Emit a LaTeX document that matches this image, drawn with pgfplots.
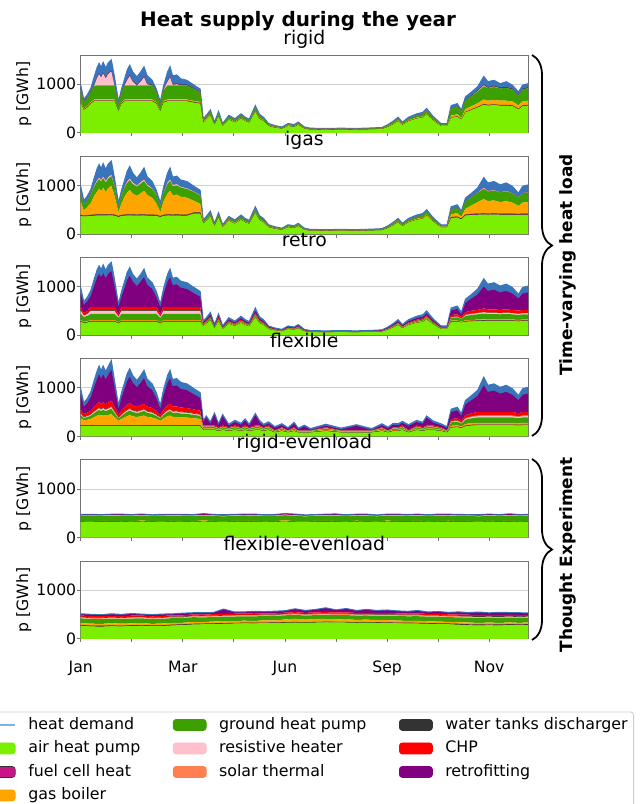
\documentclass[border=0pt]{standalone}
\usepackage{fontspec}
\setmainfont{DejaVu Sans}
\usepackage{pgfplots}
\pgfplotsset{compat=1.18}
\usepackage{pgfplotstable}
\usetikzlibrary{decorations.pathreplacing}

\definecolor{cair}{RGB}{124,238,0}
\definecolor{cfc}{RGB}{199,21,133}
\definecolor{cgas}{RGB}{255,165,0}
\definecolor{cground}{RGB}{60,160,0}
\definecolor{cres}{RGB}{255,192,203}
\definecolor{csol}{RGB}{255,127,80}
\definecolor{ctank}{RGB}{51,51,51}
\definecolor{cchp}{RGB}{255,0,0}
\definecolor{cret}{RGB}{128,0,128}
\definecolor{cdem}{RGB}{58,117,188}
\definecolor{cdeml}{RGB}{130,175,225}

% columns: hour, air HP, fuel cell, gas boiler, ground HP, resistive, solar, tanks, CHP, retrofitting, demand band
\pgfplotstableread{
h a fc g n r s t c f bl
0 620 10 25 240 0 0 15 0 0 70
60 470 8 22 130 0 0 10 0 0 50
130 520 8 22 160 0 0 10 0 0 60
200 600 10 25 210 0 0 10 0 0 65
264 650 10 25 280 0 0 15 0 0 170
320 650 10 25 290 150 0 15 0 0 200
360 650 10 25 290 225 0 15 0 0 215
400 650 10 25 290 160 0 15 0 0 200
440 650 10 25 290 240 0 15 0 0 220
490 650 10 25 290 140 0 15 0 0 200
540 650 10 25 290 235 0 15 0 0 215
600 650 10 25 290 285 0 15 0 0 225
660 650 10 25 290 0 0 15 0 0 170
740 440 8 20 122 0 0 10 0 0 40
800 600 10 25 200 0 0 10 0 0 55
860 650 10 25 290 0 0 15 0 0 120
910 650 10 25 290 105 0 15 0 0 195
960 650 10 25 290 190 0 15 0 0 210
1020 650 10 25 290 70 0 15 0 0 190
1100 650 10 25 290 0 0 15 0 0 160
1180 650 10 25 290 80 0 15 0 0 190
1240 650 10 25 290 165 0 15 0 0 205
1300 650 10 25 290 20 0 15 0 0 170
1400 650 10 25 290 0 0 15 0 0 90
1480 600 10 25 200 0 0 10 0 0 55
1560 440 8 20 122 0 0 10 0 0 40
1620 620 10 25 225 0 0 10 0 0 60
1700 650 10 25 290 70 0 15 0 0 190
1750 650 10 25 290 165 0 15 0 0 205
1800 650 10 25 290 10 0 15 0 0 170
1880 650 10 25 290 20 0 15 0 0 180
1960 650 10 25 290 0 0 15 0 0 120
2080 650 10 25 290 0 0 15 0 0 90
2220 620 10 25 240 0 0 15 0 0 70
2340 600 10 25 200 0 0 10 0 0 55
2400 212 3 15 32 0 0 0 0 0 28
2460 270 3 15 37 0 0 0 0 0 35
2540 355 4 18 48 0 0 0 0 0 45
2620 160 3 12 25 0 0 0 0 0 20
2700 335 4 16 45 0 0 0 0 0 40
2780 137 3 12 20 0 0 0 0 0 18
2900 270 3 15 37 0 0 0 0 0 35
3020 212 3 15 32 0 0 0 0 0 28
3140 292 3 17 40 0 0 0 0 0 38
3220 240 3 14 33 0 0 0 0 0 30
3300 208 3 12 30 0 0 0 0 0 27
3420 430 4 20 56 0 0 0 0 0 50
3500 285 3 16 39 0 0 0 0 0 37
3580 240 3 14 33 0 0 0 0 0 30
3680 137 3 12 20 0 0 0 0 0 18
3800 105 3 10 17 0 0 0 0 0 15
3940 83 2 8 15 0 0 0 0 0 12
4060 137 3 12 20 0 0 0 0 0 18
4180 121 3 11 18 0 0 0 0 0 17
4260 160 3 12 25 0 0 0 0 0 20
4380 83 2 8 15 0 0 0 0 0 12
4500 65 2 6 12 0 0 0 0 0 10
4800 60 2 6 12 0 0 0 0 0 10
5100 65 2 6 12 0 0 0 0 0 10
5400 60 2 6 12 0 0 0 0 0 10
5700 70 2 6 12 0 0 0 0 0 10
5900 77 2 7 13 0 0 0 0 0 11
6020 121 3 11 18 0 0 0 0 0 17
6120 175 3 13 27 0 0 0 0 0 22
6216 240 3 14 33 0 0 0 0 0 30
6300 160 3 12 25 0 0 0 0 0 20
6420 240 3 14 33 0 0 0 0 0 30
6580 292 3 17 40 0 0 0 0 0 38
6700 315 3 18 44 0 0 0 0 0 40
6775 380 4 19 52 0 0 0 0 0 45
6900 255 3 15 35 0 0 0 0 0 32
7055 137 3 12 20 0 0 0 0 0 18
7175 137 3 12 20 0 0 0 0 0 18
7255 310 5 40 150 0 0 5 0 0 50
7375 330 5 45 160 0 0 5 0 0 55
7455 270 5 35 115 0 0 5 0 0 40
7535 420 6 60 180 0 0 10 0 0 64
7655 470 8 70 210 0 0 10 0 0 72
7775 520 8 80 240 10 0 12 0 0 80
7894 580 10 95 270 20 0 15 0 0 170
7974 560 10 90 260 0 0 15 0 0 115
8094 570 10 95 265 10 0 15 0 0 115
8214 560 10 90 255 0 0 15 0 0 80
8334 560 10 90 260 0 0 15 0 0 115
8454 550 10 85 245 0 0 15 0 0 75
8574 480 8 75 195 0 0 12 0 0 70
8654 550 10 85 245 0 0 15 0 0 75
8760 560 10 90 255 0 0 15 0 0 80
}\tblrigid

\pgfplotstableread{
h a fc g n r s t c f bl
0 370 20 270 180 10 0 0 0 0 130
60 360 15 110 120 0 0 0 0 0 85
130 365 18 170 140 0 0 0 0 0 87
200 370 20 250 170 10 0 0 0 0 100
264 375 20 390 190 20 0 0 0 0 155
320 380 20 470 200 30 0 0 0 0 240
360 380 20 530 200 30 0 0 0 0 270
400 380 20 480 200 30 0 0 0 0 240
440 380 20 550 200 30 0 0 0 0 270
490 380 20 460 200 30 0 0 0 0 240
540 380 20 540 200 30 0 0 0 0 270
600 385 20 585 200 30 0 0 0 0 280
660 375 20 395 190 20 0 0 0 0 160
740 350 15 80 110 0 0 0 0 0 85
800 370 20 240 170 10 0 0 0 0 90
860 375 20 370 190 15 0 0 0 0 140
910 380 20 450 200 30 0 0 0 0 210
960 380 20 510 200 30 0 0 0 0 250
1020 380 20 430 200 30 0 0 0 0 190
1100 375 20 390 190 20 0 0 0 0 155
1180 380 20 440 200 30 0 0 0 0 190
1240 380 20 490 200 30 0 0 0 0 240
1300 375 20 410 190 25 0 0 0 0 160
1400 375 20 350 180 15 0 0 0 0 140
1480 370 20 240 170 10 0 0 0 0 90
1560 350 15 80 110 0 0 0 0 0 85
1620 370 20 270 170 10 0 0 0 0 110
1700 380 20 430 200 30 0 0 0 0 190
1750 380 20 490 200 30 0 0 0 0 240
1800 375 20 400 190 25 0 0 0 0 160
1880 380 20 410 190 25 0 0 0 0 165
1960 375 20 370 190 15 0 0 0 0 140
2080 375 20 350 180 15 0 0 0 0 140
2220 420 20 240 180 10 0 0 0 0 110
2340 420 20 180 170 10 0 0 0 0 100
2400 212 3 15 32 0 0 0 0 0 28
2460 270 3 15 37 0 0 0 0 0 35
2540 355 4 18 48 0 0 0 0 0 45
2620 160 3 12 25 0 0 0 0 0 20
2700 335 4 16 45 0 0 0 0 0 40
2780 137 3 12 20 0 0 0 0 0 18
2900 270 3 15 37 0 0 0 0 0 35
3020 212 3 15 32 0 0 0 0 0 28
3140 292 3 17 40 0 0 0 0 0 38
3220 240 3 14 33 0 0 0 0 0 30
3300 208 3 12 30 0 0 0 0 0 27
3420 430 4 20 56 0 0 0 0 0 50
3500 285 3 16 39 0 0 0 0 0 37
3580 240 3 14 33 0 0 0 0 0 30
3680 137 3 12 20 0 0 0 0 0 18
3800 105 3 10 17 0 0 0 0 0 15
3940 83 2 8 15 0 0 0 0 0 12
4060 137 3 12 20 0 0 0 0 0 18
4180 121 3 11 18 0 0 0 0 0 17
4260 160 3 12 25 0 0 0 0 0 20
4380 83 2 8 15 0 0 0 0 0 12
4500 65 2 6 12 0 0 0 0 0 10
4800 60 2 6 12 0 0 0 0 0 10
5100 65 2 6 12 0 0 0 0 0 10
5400 60 2 6 12 0 0 0 0 0 10
5700 70 2 6 12 0 0 0 0 0 10
5900 77 2 7 13 0 0 0 0 0 11
6020 121 3 11 18 0 0 0 0 0 17
6120 175 3 13 27 0 0 0 0 0 22
6216 240 3 14 33 0 0 0 0 0 30
6300 160 3 12 25 0 0 0 0 0 20
6420 240 3 14 33 0 0 0 0 0 30
6580 292 3 17 40 0 0 0 0 0 38
6700 315 3 18 44 0 0 0 0 0 40
6775 380 4 19 52 0 0 0 0 0 45
6900 255 3 15 35 0 0 0 0 0 32
7055 137 3 12 20 0 0 0 0 0 18
7175 137 3 12 20 0 0 0 0 0 18
7255 330 15 60 100 0 0 0 0 0 55
7375 340 15 75 110 0 0 0 0 0 60
7455 300 10 45 75 0 0 0 0 0 40
7535 380 18 120 150 0 0 0 0 0 72
7655 390 20 180 170 0 0 0 0 0 80
7775 395 20 240 190 5 0 0 0 0 100
7894 400 20 300 210 20 0 0 0 0 210
7974 395 20 260 200 10 0 0 0 0 165
8094 400 20 270 200 10 0 0 0 0 180
8214 395 20 240 200 5 0 0 0 0 150
8334 395 20 260 200 10 0 0 0 0 165
8454 395 20 230 190 5 0 0 0 0 140
8574 390 20 170 170 0 0 0 0 0 90
8654 395 20 230 190 5 0 0 0 0 140
8760 395 20 240 200 5 0 0 0 0 150
}\tbligas

\pgfplotstableread{
h a fc g n r s t c f bl
0 280 10 20 130 60 0 15 70 275 120
60 250 8 18 100 25 0 10 50 159 70
130 260 8 18 110 35 0 12 55 202 80
200 280 10 20 130 60 0 15 70 225 110
264 280 10 20 130 60 0 15 70 425 140
320 280 10 20 130 60 0 15 70 595 160
360 280 10 20 130 60 0 15 70 675 170
400 280 10 20 130 60 0 15 70 605 160
440 280 10 20 130 60 0 15 70 690 175
490 280 10 20 130 60 0 15 70 585 160
540 280 10 20 130 60 0 15 70 680 175
600 280 10 20 130 60 0 15 70 735 180
660 280 10 20 130 60 0 15 70 435 140
740 240 8 18 90 20 0 10 50 144 60
800 280 10 20 130 60 0 15 70 205 110
860 280 10 20 130 60 0 15 70 390 135
910 280 10 20 130 60 0 15 70 550 155
960 280 10 20 130 60 0 15 70 640 165
1020 280 10 20 130 60 0 15 70 515 150
1100 280 10 20 130 60 0 15 70 425 140
1180 280 10 20 130 60 0 15 70 525 150
1240 280 10 20 130 60 0 15 70 610 165
1300 280 10 20 130 60 0 15 70 455 140
1400 280 10 20 130 60 0 15 70 365 130
1480 280 10 20 130 60 0 15 70 205 110
1560 240 8 18 90 20 0 10 50 144 60
1620 280 10 20 130 60 0 15 70 250 115
1700 280 10 20 130 60 0 15 70 515 150
1750 280 10 20 130 60 0 15 70 610 165
1800 280 10 20 130 60 0 15 70 445 140
1880 280 10 20 130 60 0 15 70 460 145
1960 280 10 20 130 60 0 15 70 390 135
2080 280 10 20 130 60 0 15 70 365 130
2220 280 10 20 130 60 0 15 70 275 120
2340 280 10 20 130 60 0 15 70 205 110
2400 188 2 12 17 0 0 0 17 25 29
2460 234 2 14 22 0 0 0 22 31 35
2540 305 3 19 28 0 0 0 28 40 47
2620 143 2 9 13 0 0 0 13 18 22
2700 286 3 18 26 0 0 0 26 37 44
2780 124 2 8 11 0 0 0 11 16 18
2900 234 2 14 22 0 0 0 22 31 35
3020 188 2 12 17 0 0 0 17 25 29
3140 254 2 16 23 0 0 0 23 33 39
3220 208 2 13 19 0 0 0 19 27 32
3300 182 2 11 17 0 0 0 17 23 28
3420 364 3 22 34 0 0 0 34 47 56
3500 247 2 15 23 0 0 0 23 32 38
3580 208 2 13 19 0 0 0 19 27 32
3680 124 2 8 11 0 0 0 11 16 18
3800 98 1 6 9 0 0 0 9 12 15
3940 78 1 5 7 0 0 0 7 10 12
4060 124 2 8 11 0 0 0 11 16 18
4180 111 1 7 10 0 0 0 10 14 17
4260 143 2 9 13 0 0 0 13 18 22
4380 78 1 5 7 0 0 0 7 10 12
4500 62 1 4 6 0 0 0 6 7 9
4800 59 1 4 5 0 0 0 5 7 9
5100 62 1 4 6 0 0 0 6 7 9
5400 59 1 4 5 0 0 0 5 7 9
5700 65 1 4 6 0 0 0 6 8 10
5900 72 1 4 7 0 0 0 7 8 11
6020 111 1 7 10 0 0 0 10 14 17
6120 156 2 10 14 0 0 0 14 20 24
6216 208 2 13 19 0 0 0 19 27 32
6300 143 2 9 13 0 0 0 13 18 22
6420 208 2 13 19 0 0 0 19 27 32
6580 254 2 16 23 0 0 0 23 33 39
6700 273 3 17 25 0 0 0 25 35 42
6775 325 3 20 30 0 0 0 30 42 50
6900 221 2 14 20 0 0 0 20 29 34
7055 124 2 8 11 0 0 0 11 16 18
7175 124 2 8 11 0 0 0 11 16 18
7255 280 5 15 60 10 0 5 40 90 55
7375 280 5 15 70 10 0 5 45 110 60
7455 260 5 15 50 5 0 5 35 50 45
7535 280 8 20 90 15 0 8 55 190 74
7655 285 10 20 100 20 0 10 60 250 85
7775 290 10 20 110 20 0 10 60 320 110
7894 295 10 20 120 25 0 12 70 448 160
7974 290 10 20 115 20 0 10 65 380 140
8094 290 10 20 115 20 0 10 65 405 145
8214 290 10 20 110 20 0 10 60 360 130
8334 290 10 20 115 20 0 10 65 380 140
8454 290 10 20 110 20 0 10 60 335 125
8574 285 10 20 100 20 0 10 60 250 85
8654 290 10 20 110 20 0 10 60 335 125
8760 290 10 20 110 20 0 10 60 360 130
}\tblretro

\pgfplotstableread{
h a fc g n r s t c f bl
0 210 15 147 69 13 10 15 74 309 118
60 210 15 104 48 9 7 15 52 147 83
130 210 15 117 55 10 8 15 59 197 94
200 210 15 138 64 12 9 15 69 278 110
264 210 15 173 81 15 12 15 86 405 138
320 210 15 201 94 17 13 15 101 513 161
360 210 15 218 102 19 15 15 109 573 174
400 210 15 203 95 18 14 15 101 517 162
440 210 15 218 102 19 15 15 109 573 174
490 210 15 200 93 17 13 15 100 507 160
540 210 15 216 101 19 14 15 108 569 173
600 210 15 234 109 20 16 15 117 637 187
660 210 15 174 81 15 12 15 87 412 139
740 210 15 96 45 8 6 15 48 120 77
800 210 15 135 63 12 9 15 68 265 108
860 210 15 167 78 14 11 15 83 384 133
910 210 15 194 90 17 13 15 97 484 155
960 210 15 209 97 18 14 15 104 541 167
1020 210 15 188 88 16 13 15 94 461 150
1100 210 15 173 81 15 12 15 86 405 138
1180 210 15 189 88 16 13 15 95 468 151
1240 210 15 204 95 18 14 15 102 524 163
1300 210 15 177 83 15 12 15 89 422 142
1400 210 15 162 76 14 11 15 81 366 130
1480 210 15 135 63 12 9 15 68 265 108
1560 210 15 96 45 8 6 15 48 120 77
1620 210 15 143 67 12 10 15 71 293 114
1700 210 15 188 88 16 13 15 94 461 150
1750 210 15 204 95 18 14 15 102 524 163
1800 210 15 176 82 15 12 15 88 417 140
1880 210 15 179 83 15 12 15 89 429 143
1960 210 15 167 78 14 11 15 83 384 133
2080 210 15 162 76 14 11 15 81 366 130
2220 210 15 147 69 13 10 15 74 309 118
2340 210 15 135 63 12 9 15 68 265 108
2400 130 5 25 30 5 5 5 20 70 35
2460 130 5 25 30 5 5 5 20 160 35
2540 130 5 25 30 5 5 5 20 40 35
2620 130 5 25 30 5 5 5 20 220 35
2700 110 5 20 25 4 4 4 15 43 30
2780 130 5 25 30 5 5 5 20 190 35
2900 110 5 20 25 4 4 4 15 33 30
3020 130 5 25 30 5 5 5 20 70 35
3140 110 5 20 25 4 4 4 15 53 30
3220 130 5 25 30 5 5 5 20 100 35
3300 110 5 20 25 4 4 4 15 33 30
3420 130 5 25 30 5 5 5 20 210 35
3500 130 5 25 30 5 5 5 20 70 35
3580 110 5 20 25 4 4 4 15 33 30
3680 130 5 25 30 5 5 5 20 40 35
3800 80 5 12 12 2 3 3 8 50 25
3940 110 5 20 25 4 4 4 15 43 30
4060 80 5 12 12 2 3 3 8 30 25
4180 110 5 20 25 4 4 4 15 73 30
4260 80 5 12 12 2 3 3 8 20 25
4380 80 5 12 12 2 3 3 8 80 25
4500 80 5 12 12 2 3 3 8 10 25
4800 110 5 20 25 4 4 4 15 33 30
5100 80 5 12 12 2 3 3 8 20 25
5400 80 5 12 12 2 3 3 8 90 25
5700 80 5 12 12 2 3 3 8 10 25
5900 110 5 20 25 4 4 4 15 43 30
6020 80 5 12 12 2 3 3 8 40 25
6120 110 5 20 25 4 4 4 15 53 30
6216 110 5 20 25 4 4 4 15 43 30
6300 130 5 25 30 5 5 5 20 50 35
6420 80 5 12 12 2 3 3 8 90 25
6580 130 5 25 30 5 5 5 20 70 35
6700 110 5 20 25 4 4 4 15 73 30
6775 130 5 25 30 5 5 5 20 160 35
6900 130 5 25 30 5 5 5 20 60 35
7055 110 5 20 25 4 4 4 15 43 30
7175 80 5 12 12 2 3 3 8 50 25
7255 180 8 30 70 10 10 8 40 144 60
7375 190 8 30 75 10 10 8 45 159 65
7455 170 8 25 60 8 8 6 35 100 50
7535 210 10 35 90 15 12 8 55 225 80
7655 225 10 38 100 18 14 10 60 270 95
7775 230 10 40 110 20 15 10 70 330 115
7894 230 10 40 110 20 15 10 70 545 170
7974 230 10 40 110 20 15 10 70 410 135
8094 230 10 40 110 20 15 10 70 435 140
8214 230 10 40 110 20 15 10 70 375 130
8334 230 10 40 110 20 15 10 70 410 135
8454 230 10 40 110 20 15 10 70 350 125
8574 225 10 38 100 18 14 10 60 270 95
8654 230 10 40 110 20 15 10 70 350 125
8760 230 10 40 110 20 15 10 70 375 130
}\tblflex

\pgfplotstableread{
h a fc g n r s t c f bl
0 325 5 10 104 10 0 3 0 12 6
200 318 5 12 108 10 0 3 0 18 6
400 330 5 8 101 10 0 3 0 10 6
600 322 5 14 106 10 0 3 0 15 6
800 327 5 9 103 10 0 3 0 20 6
1000 320 5 11 107 10 0 3 0 11 6
1200 332 5 15 100 10 0 3 0 14 6
1400 324 5 7 105 10 0 3 0 9 6
1600 319 5 10 109 10 0 3 0 17 6
1800 328 5 13 102 10 0 3 0 13 6
2000 326 5 9 104 10 0 3 0 16 6
2200 321 5 12 106 10 0 3 0 10 6
2400 333 5 16 101 10 0 3 0 19 6
2600 325 5 8 108 10 0 3 0 12 6
2800 317 5 11 103 10 0 3 0 15 6
3000 329 5 10 105 10 0 3 0 11 6
3200 323 5 14 100 10 0 3 0 21 6
3400 331 5 9 107 10 0 3 0 13 6
3600 320 5 12 104 10 0 3 0 10 6
3800 326 5 8 102 10 0 3 0 16 6
4000 334 5 17 106 10 0 3 0 14 6
4200 322 5 10 109 10 0 3 0 18 6
4400 318 5 11 103 10 0 3 0 12 6
4600 327 5 13 101 10 0 3 0 9 6
4800 330 5 9 105 10 0 3 0 15 6
5000 324 5 12 107 10 0 3 0 20 6
5200 321 5 10 104 10 0 3 0 11 6
5400 328 5 15 102 10 0 3 0 13 6
5600 325 5 8 108 10 0 3 0 17 6
5800 319 5 11 103 10 0 3 0 10 6
6000 332 5 13 100 10 0 3 0 14 6
6200 326 5 9 106 10 0 3 0 19 6
6400 323 5 12 104 10 0 3 0 12 6
6600 329 5 10 105 10 0 3 0 16 6
6800 320 5 14 101 10 0 3 0 11 6
7000 327 5 8 107 10 0 3 0 18 6
7200 331 5 11 103 10 0 3 0 13 6
7400 322 5 10 106 10 0 3 0 15 6
7600 325 5 13 102 10 0 3 0 10 6
7800 318 5 9 104 10 0 3 0 17 6
8000 328 5 12 108 10 0 3 0 12 6
8200 324 5 10 101 10 0 3 0 14 6
8400 330 5 11 105 10 0 3 0 20 6
8600 321 5 14 103 10 0 3 0 11 6
8760 326 5 10 106 10 0 3 0 13 6
}\tblrigideven

\pgfplotstableread{
h a fc g n r s t c f bl
0 270 10 40 100 5 15 15 25 25 10
200 255 12 45 95 5 15 12 25 30 10
400 250 15 40 100 6 15 14 25 20 10
600 260 12 50 95 5 15 12 25 30 10
800 255 10 45 100 5 14 13 25 25 10
1000 265 12 40 100 6 15 12 25 35 10
1200 270 10 45 95 5 15 13 25 20 10
1400 260 12 35 100 5 14 12 25 25 10
1600 265 10 40 95 6 15 13 25 30 10
1800 275 12 40 100 5 15 12 25 20 10
2000 285 10 35 95 5 15 13 25 35 10
2200 295 10 40 100 5 14 12 25 25 10
2400 300 10 35 95 6 15 12 25 30 10
2600 305 10 40 95 5 15 12 25 25 10
2800 310 10 45 90 5 15 12 25 90 10
3000 315 8 40 95 5 15 12 25 30 10
3200 320 8 45 90 6 15 10 25 25 10
3400 318 8 40 95 5 14 10 25 40 10
3600 322 8 50 90 5 15 10 25 25 10
3800 325 8 45 90 5 15 10 25 35 10
4000 330 8 60 85 5 15 10 25 30 10
4200 335 8 70 80 5 15 10 25 60 10
4400 330 8 55 85 5 15 10 25 40 10
4600 335 8 65 80 6 15 10 25 50 10
4800 340 8 60 85 5 15 10 25 80 10
5000 338 8 55 85 5 15 10 25 45 10
5200 335 8 60 85 5 15 10 25 70 10
5400 330 8 50 90 5 15 10 25 40 10
5600 332 8 55 85 5 15 10 25 60 10
5800 330 8 45 90 5 15 10 25 45 10
6000 325 8 50 90 5 15 10 25 55 10
6200 320 10 45 95 5 15 10 25 40 10
6400 318 10 40 95 5 15 12 25 35 10
6600 315 10 45 95 5 15 12 25 50 10
6800 310 10 40 95 5 15 12 25 30 10
7000 305 10 40 100 5 15 12 25 40 10
7200 300 12 35 100 5 15 12 25 30 10
7400 290 15 35 100 5 15 14 25 45 10
7600 280 15 40 100 5 15 15 25 35 10
7800 275 15 35 105 6 15 15 25 50 10
8000 280 15 40 100 5 15 14 25 30 10
8200 275 15 35 105 5 15 15 25 45 10
8400 285 12 40 100 5 15 13 25 35 10
8600 280 12 35 100 5 15 14 25 40 10
8760 285 12 40 100 5 15 13 25 30 10
}\tblflexeven

\newcommand{\stacks}[1]{%
 \addplot[fill=cair,draw=none] table[x=h,y=a]{#1} \closedcycle;
 \addplot[fill=cfc,draw=ctank,line width=0.4bp] table[x=h,y=fc]{#1} \closedcycle;
 \addplot[fill=cgas,draw=none] table[x=h,y=g]{#1} \closedcycle;
 \addplot[fill=cground,draw=none] table[x=h,y=n]{#1} \closedcycle;
 \addplot[fill=cres,draw=none] table[x=h,y=r]{#1} \closedcycle;
 \addplot[fill=csol,draw=none] table[x=h,y=s]{#1} \closedcycle;
 \addplot[fill=ctank,draw=none] table[x=h,y=t]{#1} \closedcycle;
 \addplot[fill=cchp,draw=none] table[x=h,y=c]{#1} \closedcycle;
 \addplot[fill=cret,draw=none] table[x=h,y=f]{#1} \closedcycle;
 \addplot[fill=cdem,draw=cdem,line width=1bp] table[x=h,y=bl]{#1} \closedcycle;
}

\pgfplotsset{
 panel/.style={
  anchor=north west,
  width=447.3bp, height=77.8bp, scale only axis,
  xmin=0, xmax=8760, ymin=0, ymax=1600,
  xtick={0,1000,2000,3000,4000,5000,6000,7000,8000},
  xticklabels={},
  ytick={0,1000}, yticklabels={0,1000},
  ymajorgrids, grid style={line width=0.8bp, black!18},
  axis line style={black!55, line width=0.8bp},
  tick style={black!55, line width=0.8bp},
  tick align=outside, major tick length=3.5bp,
  xtick pos=left, ytick pos=left,
  tick label style={font=\fontsize{15.7}{18}\selectfont},
  yticklabel style={xshift=2.5bp},
  xticklabel style={yshift=-15bp},
  stack plots=y,
  ylabel={p [GWh]},
  ylabel style={at={(axis description cs:-0.127,0.5)}, anchor=center, font=\fontsize{15.7}{18}\selectfont},
  title style={at={(axis description cs:0.5,1)}, anchor=base, yshift=5bp, font=\fontsize{18.9}{22}\selectfont},
 }
}

\begin{document}
\begin{tikzpicture}
\useasboundingbox (0bp,0bp) rectangle (640bp,-804bp);

\node[anchor=base, font=\bfseries\fontsize{20}{24}\selectfont] at (298bp,-26bp) {Heat supply during the year};

\begin{axis}[panel, at={(80.7bp,-55bp)}, title={rigid}]
\stacks{\tblrigid}
\end{axis}
\begin{axis}[panel, at={(80.7bp,-156.2bp)}, title={igas}]
\stacks{\tbligas}
\end{axis}
\begin{axis}[panel, at={(80.7bp,-257.4bp)}, title={retro}]
\stacks{\tblretro}
\end{axis}
\begin{axis}[panel, at={(80.7bp,-358.6bp)}, title={flexible}]
\stacks{\tblflex}
\end{axis}
\begin{axis}[panel, at={(80.7bp,-459.8bp)}, title={rigid-evenload}]
\stacks{\tblrigideven}
\end{axis}
\begin{axis}[panel, at={(80.7bp,-561bp)}, title={flexible-evenload},
  xticklabels={Jan,,Mar,,Jun,,Sep,,Nov}]
\stacks{\tblflexeven}
\end{axis}

\begin{axis}[at={(80.7bp,-561bp)}, anchor=north west, width=447.3bp, height=77.8bp,
  scale only axis, hide axis, xmin=0, xmax=1, ymin=0, ymax=1,
  legend columns=3, legend cell align=left,
  legend style={at={(axis description cs:1.237,-0.935)}, anchor=north east,
    draw=black!20, line width=0.8bp, rounded corners=3bp, fill=white,
    font=\fontsize{15.9}{19}\selectfont, inner xsep=4bp, inner ysep=3.5bp,
    nodes={inner sep=2bp, text height=11.6bp, text depth=3.4bp},
    row sep=4.5bp,
    /tikz/every odd column/.append style={column sep=10.5bp},
    /tikz/every even column/.append style={column sep=30.5bp}}]
\addlegendimage{legend image code/.code={\draw[cdeml,line width=1.2bp] (0bp,0bp) -- (33bp,0bp);}}
\addlegendentry{heat demand}
\addlegendimage{legend image code/.code={\fill[cground] (0bp,-5.5bp) rectangle (33bp,5.5bp);}}
\addlegendentry{ground heat pump}
\addlegendimage{legend image code/.code={\fill[ctank] (0bp,-5.5bp) rectangle (33bp,5.5bp);}}
\addlegendentry{water tanks discharger}
\addlegendimage{legend image code/.code={\fill[cair] (0bp,-5.5bp) rectangle (33bp,5.5bp);}}
\addlegendentry{air heat pump}
\addlegendimage{legend image code/.code={\fill[cres] (0bp,-5.5bp) rectangle (33bp,5.5bp);}}
\addlegendentry{resistive heater}
\addlegendimage{legend image code/.code={\fill[cchp] (0bp,-5.5bp) rectangle (33bp,5.5bp);}}
\addlegendentry{CHP}
\addlegendimage{legend image code/.code={\filldraw[fill=cfc,draw=ctank,line width=0.6bp] (0bp,-5.5bp) rectangle (33bp,5.5bp);}}
\addlegendentry{fuel cell heat}
\addlegendimage{legend image code/.code={\fill[csol] (0bp,-5.5bp) rectangle (33bp,5.5bp);}}
\addlegendentry{solar thermal}
\addlegendimage{legend image code/.code={\fill[cret] (0bp,-5.5bp) rectangle (33bp,5.5bp);}}
\addlegendentry{retrofitting}
\addlegendimage{legend image code/.code={\fill[cgas] (0bp,-5.5bp) rectangle (33bp,5.5bp);}}
\addlegendentry{gas boiler}
\end{axis}

\draw[decorate, decoration={brace, amplitude=20bp}, line width=1.8bp] (532bp,-55bp) -- (532bp,-436bp);
\draw[decorate, decoration={brace, amplitude=20bp}, line width=1.8bp] (532bp,-459bp) -- (532bp,-640bp);
\node[rotate=90, font=\bfseries\fontsize{17}{20}\selectfont] at (568bp,-265bp) {Time-varying heat load};
\node[rotate=90, font=\bfseries\fontsize{17}{20}\selectfont] at (568bp,-555bp) {Thought Experiment};
\end{tikzpicture}
\end{document}
